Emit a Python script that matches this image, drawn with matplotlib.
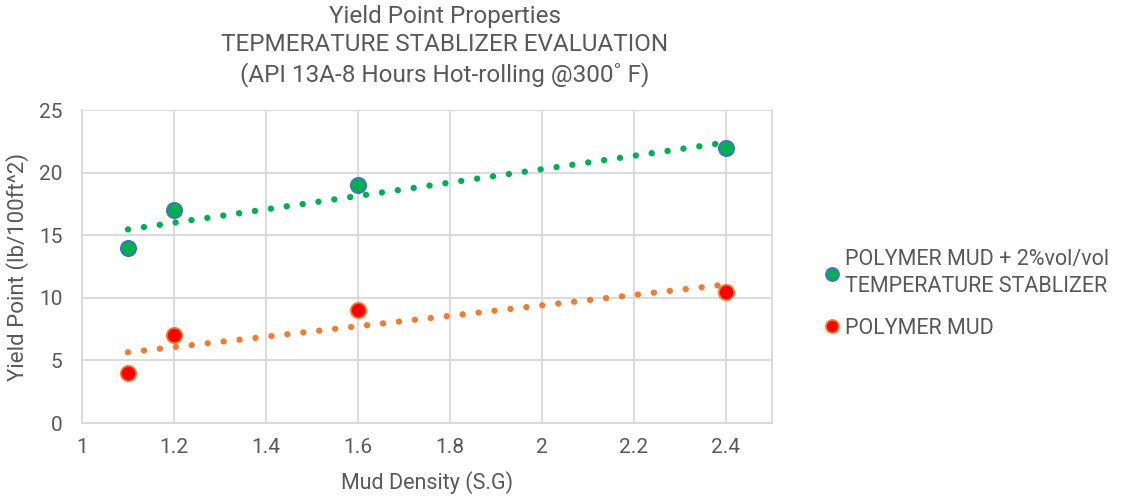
import numpy as np
import matplotlib
matplotlib.use("Agg")
import matplotlib.pyplot as plt

plt.rcParams['font.family'] = ['Roboto', 'DejaVu Sans']

density = [1.1, 1.2, 1.6, 2.4]
yp_stabilizer = [14, 17, 19, 22]
yp_polymer = [4, 7, 9, 10.5]
label_stab = "POLYMER MUD + 2%vol/vol\nTEMPERATURE STABLIZER"
label_poly = "POLYMER MUD"
title_lines = "Yield Point Properties\nTEPMERATURE STABLIZER EVALUATION\n(API 13A-8 Hours Hot-rolling @300\u02da F)"
xticks = [1, 1.2, 1.4, 1.6, 1.8, 2, 2.2, 2.4]
xtick_labels = ["1", "1.2", "1.4", "1.6", "1.8", "2", "2.2", "2.4"]
yticks = [0, 5, 10, 15, 20, 25]

TXT = "#595959"
GRID = "#D9D9D9"

fig = plt.figure(figsize=(11.3, 4.98), dpi=100)
ax = fig.add_axes([82/1130, 1-423/498, (772-82)/1130, (423-110)/498])

# trendlines (linear fit)
x = np.array(density)
for ys, col in [(yp_stabilizer, "#00B050"), (yp_polymer, "#ED7D31")]:
    m, b = np.polyfit(x, np.array(ys), 1)
    xt = np.linspace(1.1, 2.4, 200)
    ax.plot(xt, m*xt + b, color=col, lw=4.6, linestyle=(0, (0.01, 2.5)),
            dash_capstyle='round', zorder=2)

ax.plot(density, yp_stabilizer, 'o', ms=11, mfc="#00B050", mec="#4472C4", mew=1.3,
        zorder=3, label=label_stab)
ax.plot(density, yp_polymer, 'o', ms=11, mfc="#FF0000", mec="#ED7D31", mew=1.3,
        zorder=3, label=label_poly)

ax.set_xlim(1, 2.5)
ax.set_ylim(0, 25)
ax.set_xticks(xticks)
ax.set_xticklabels(xtick_labels)
ax.set_yticks(yticks)
ax.grid(True, color=GRID, lw=1.3)
ax.set_axisbelow(True)
ax.spines['top'].set_visible(False)
for s in ['left', 'bottom', 'right']:
    ax.spines[s].set_color(GRID)
    ax.spines[s].set_linewidth(1.3)
ax.tick_params(length=0, labelsize=15, colors=TXT, pad=11)
ax.tick_params(axis='y', pad=14)

ax.set_xlabel("Mud Density (S.G)", fontsize=15.5, color=TXT, labelpad=10)
ax.set_ylabel("Yield Point (lb/100ft^2)", fontsize=16, color=TXT, labelpad=7)

fig.text(445/1130, 1-46/498, title_lines, ha='center', va='center', fontsize=17.5,
         color=TXT, linespacing=1.32)

leg = fig.legend(loc='center left', bbox_to_anchor=(800/1130, 1-294/498), frameon=False,
                 fontsize=15.5, handletextpad=0.0, markerscale=0.85, labelspacing=0.95,
                 handlelength=1.2)
for t in leg.get_texts():
    t.set_color(TXT)
    t.set_linespacing(1.35)

fig.savefig("out.png", dpi=100)
